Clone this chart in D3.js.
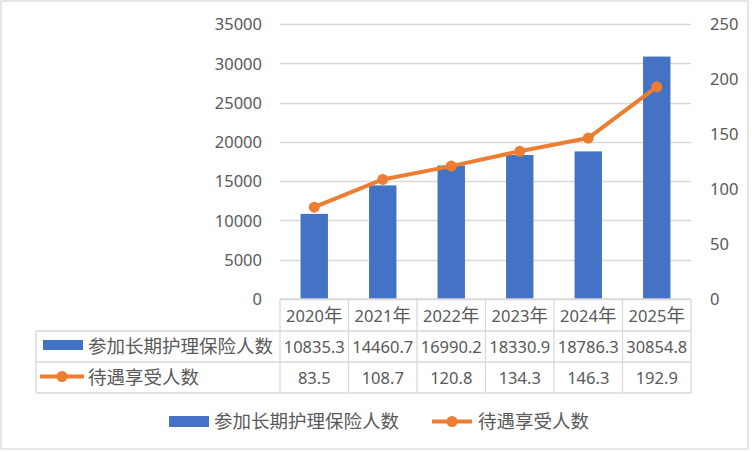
<!DOCTYPE html>
<html>
<head>
<meta charset="utf-8">
<script src="https://cdn.jsdelivr.net/npm/d3@7"></script>
<style>
  body { margin: 0; background: #fff; }
  text { fill: #595959; font-family: "Noto Sans", "Noto Sans CJK SC", sans-serif; }
</style>
</head>
<body>
<div id="chart"></div>
<script>
// data
const years = ["2020年", "2021年", "2022年", "2023年", "2024年", "2025年"];
const insured = [10835.3, 14460.7, 16990.2, 18330.9, 18786.3, 30854.8];
const beneficiaries = [83.5, 108.7, 120.8, 134.3, 146.3, 192.9];
const insuredName = "参加长期护理保险人数";
const benefName = "待遇享受人数";
const leftTicks = [0, 5000, 10000, 15000, 20000, 25000, 30000, 35000];
const rightTicks = [0, 50, 100, 150, 200, 250];

const W = 752, H = 452;
const blue = "#4472C4", orange = "#ED7D31", grid = "#d9d9d9";
const plot = { left: 280, right: 691, top: 24, bottom: 299 };

// digits a bit smaller than the CJK glyphs, like Calibri + DengXian
function richText(sel, str) {
    const runs = str.match(/[\u4e00-\u9fff]+|[^\u4e00-\u9fff]+/g) || [];
    runs.forEach(r => {
        sel.append("tspan")
            .style("font-size", /[\u4e00-\u9fff]/.test(r) ? "18.5px" : "16.5px")
            .text(r);
    });
    return sel;
}

const svg = d3.select("#chart").append("svg")
    .attr("width", W)
    .attr("height", H);

svg.append("rect")
    .attr("x", 1).attr("y", 1)
    .attr("width", 747).attr("height", 448)
    .attr("fill", "#fff")
    .attr("stroke", grid)
    .attr("stroke-width", 1.3);

const x = d3.scaleBand().domain(years).range([plot.left, plot.right]).paddingInner(0).paddingOuter(0);
const yL = d3.scaleLinear().domain([0, 35000]).range([plot.bottom, plot.top]);
const yR = d3.scaleLinear().domain([0, 250]).range([plot.bottom, plot.top]);

// gridlines
svg.append("g")
    .selectAll("line")
    .data(leftTicks)
    .join("line")
    .attr("x1", plot.left).attr("x2", plot.right)
    .attr("y1", d => Math.round(yL(d)) + 0.5)
    .attr("y2", d => Math.round(yL(d)) + 0.5)
    .attr("stroke", grid)
    .attr("stroke-width", 1.3);

// left axis
const axL = svg.append("g")
    .attr("transform", `translate(${plot.left - 18},0)`)
    .call(d3.axisLeft(yL).tickValues(leftTicks).tickFormat(d3.format("d")).tickSize(0).tickPadding(0));
axL.select(".domain").remove();
axL.selectAll("text").style("font-size", "16.5px").attr("dy", "0.35em");

// right axis
const axR = svg.append("g")
    .attr("transform", `translate(${plot.right + 19},0)`)
    .call(d3.axisRight(yR).tickValues(rightTicks).tickFormat(d3.format("d")).tickSize(0).tickPadding(0));
axR.select(".domain").remove();
axR.selectAll("text").style("font-size", "16.5px").attr("dy", "0.35em");

// bars
const barW = x.bandwidth() * 0.4;
svg.append("g")
    .selectAll("rect")
    .data(insured)
    .join("rect")
    .attr("x", (d, i) => x(years[i]) + (x.bandwidth() - barW) / 2)
    .attr("y", d => yL(d))
    .attr("width", barW)
    .attr("height", d => plot.bottom - yL(d))
    .attr("fill", blue);

// line
const cx = i => x(years[i]) + x.bandwidth() / 2;
svg.append("path")
    .datum(beneficiaries)
    .attr("fill", "none")
    .attr("stroke", orange)
    .attr("stroke-width", 4)
    .attr("stroke-linejoin", "round")
    .attr("d", d3.line().x((d, i) => cx(i)).y(d => yR(d)));

svg.append("g")
    .selectAll("circle")
    .data(beneficiaries)
    .join("circle")
    .attr("cx", (d, i) => cx(i))
    .attr("cy", d => yR(d))
    .attr("r", 5.5)
    .attr("fill", orange);

// data table
const rowH = [plot.bottom, 331, 362, 393];
const tableLeft = 36;
const tbl = svg.append("g").attr("stroke", grid).attr("stroke-width", 1.3);

tbl.append("line")
    .attr("x1", plot.left).attr("x2", plot.right)
    .attr("y1", rowH[0]).attr("y2", rowH[0]);
rowH.slice(1).forEach(yy => {
    tbl.append("line")
        .attr("x1", tableLeft).attr("x2", plot.right)
        .attr("y1", yy).attr("y2", yy);
});
tbl.append("line")
    .attr("x1", tableLeft).attr("x2", tableLeft)
    .attr("y1", rowH[1]).attr("y2", rowH[3]);
years.concat([null]).forEach((yr, i) => {
    const xx = yr ? x(yr) : plot.right;
    tbl.append("line")
        .attr("x1", xx).attr("x2", xx)
        .attr("y1", rowH[0]).attr("y2", rowH[3]);
});

const rowMid = k => (rowH[k] + rowH[k + 1]) / 2 + 6;

// header row
years.forEach(yr => {
    richText(svg.append("text")
        .attr("x", x(yr) + x.bandwidth() / 2)
        .attr("y", rowMid(0) + 1)
        .attr("text-anchor", "middle"), yr);
});

// values
[insured, beneficiaries].forEach((vals, k) => {
    vals.forEach((v, i) => {
        svg.append("text")
            .attr("x", cx(i))
            .attr("y", rowMid(k + 1))
            .attr("text-anchor", "middle")
            .style("font-size", "16.5px")
            .text(v.toFixed(1));
    });
});

// row labels with keys
svg.append("rect")
    .attr("x", 43).attr("y", 340)
    .attr("width", 40).attr("height", 10)
    .attr("fill", blue);
richText(svg.append("text").attr("x", 88).attr("y", rowMid(1)), insuredName);

svg.append("line")
    .attr("x1", 40).attr("x2", 84)
    .attr("y1", 376.5).attr("y2", 376.5)
    .attr("stroke", orange).attr("stroke-width", 4);
svg.append("circle")
    .attr("cx", 62).attr("cy", 376.5).attr("r", 5.5)
    .attr("fill", orange);
richText(svg.append("text").attr("x", 88).attr("y", rowMid(2)), benefName);

// bottom legend
const legY = 421.5;
svg.append("rect")
    .attr("x", 169).attr("y", legY - 5.5)
    .attr("width", 40).attr("height", 11)
    .attr("fill", blue);
richText(svg.append("text").attr("x", 214).attr("y", legY + 6.5), insuredName);

svg.append("line")
    .attr("x1", 432).attr("x2", 472)
    .attr("y1", legY).attr("y2", legY)
    .attr("stroke", orange).attr("stroke-width", 4);
svg.append("circle")
    .attr("cx", 452).attr("cy", legY).attr("r", 5.5)
    .attr("fill", orange);
richText(svg.append("text").attr("x", 478).attr("y", legY + 6.5), benefName);
</script>
</body>
</html>
